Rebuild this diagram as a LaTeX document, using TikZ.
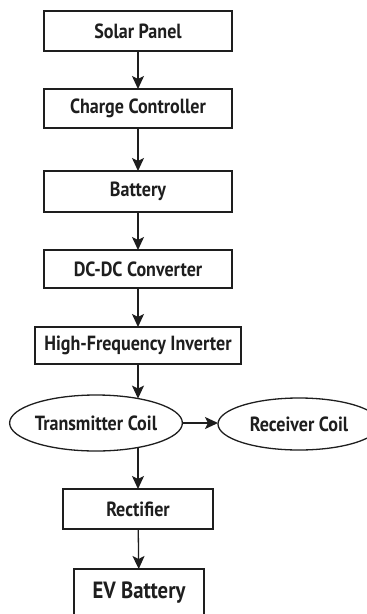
\documentclass[tikz,border=0pt]{standalone}
\usepackage{fontspec}
\setmainfont{PT Sans}[FakeStretch=0.88]
\usetikzlibrary{arrows.meta,shapes.geometric}
\definecolor{ink}{HTML}{1E1E1E}
\tikzset{
  lbl/.style={text=ink,font=\fontsize{20.5}{22}\selectfont\bfseries},
  blk/.style={lbl,draw=ink,line width=1.3pt,rectangle,inner sep=0pt,outer sep=0pt},
  oval/.style={lbl,draw=ink,line width=1.3pt,ellipse,inner sep=0pt,outer sep=0pt},
  arr/.style={draw=ink,line width=1.3pt,-{Stealth[length=13pt,width=12pt,inset=3pt]}},
}
\begin{document}
\begin{tikzpicture}[x=1pt,y=-1pt]
\useasboundingbox (0,0) rectangle (367,614);
\fill[white] (0,0) rectangle (367,614);
\clip (0,0) rectangle (367,614);
\node[blk,minimum width=188pt,minimum height=40pt] (sp) at (138,31) {Solar Panel};
\node[blk,minimum width=188pt,minimum height=39pt] (cc) at (138,108.5) {Charge Controller};
\node[blk,minimum width=188pt,minimum height=41pt] (bat) at (138,191.5) {Battery};
\node[blk,minimum width=188pt,minimum height=38pt] (dc) at (138,269) {DC-DC Converter};
\node[blk,minimum width=206pt,minimum height=37pt] (inv) at (138,345.5) {High-Frequency Inverter};
\node[oval,minimum width=168pt,minimum height=56pt] (tc) at (96,423) {Transmitter Coil};
\node[oval,minimum width=162pt,minimum height=52pt] (rc) at (299,424) {Receiver Coil};
\node[blk,minimum width=150pt,minimum height=40pt] (rect) at (138,509) {Rectifier};
\node[blk,minimum width=130pt,minimum height=47pt,font=\fontsize{23.5}{25}\selectfont\bfseries] (ev) at (139,592.5) {EV Battery};
\draw[arr] (sp) -- (cc);
\draw[arr] (cc) -- (bat);
\draw[arr] (bat) -- (dc);
\draw[arr] (dc) -- (inv);
\draw[arr] (inv.south) -- (inv.south |- tc.30);
\draw[arr,line width=1.8pt] (tc.east) -- (tc.east -| rc.west);
\draw[arr] (inv.south |- tc.-30) -- (rect.north);
\draw[arr] (rect) -- (ev);
\end{tikzpicture}
\end{document}
